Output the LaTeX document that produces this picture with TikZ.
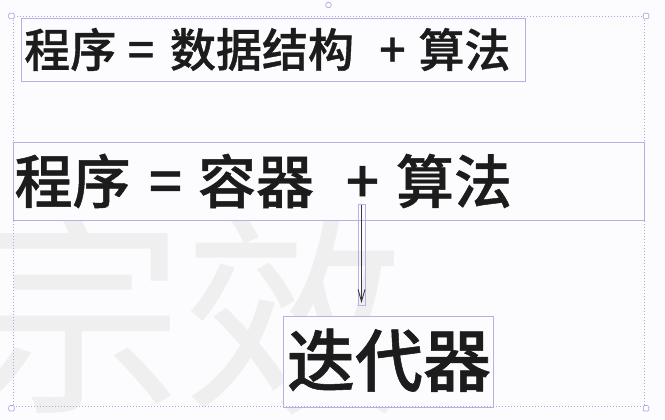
\documentclass[tikz,border=0pt]{standalone}
\usepackage{fontspec}
\usetikzlibrary{arrows.meta}
\newfontfamily\cjk{Noto Sans CJK SC}
\newfontfamily\cjkm[FakeBold=0.8]{Noto Sans CJK SC Medium}
\definecolor{pagebg}{HTML}{FCFCFE}
\definecolor{lavender}{HTML}{B5B1E4}
\definecolor{selline}{HTML}{ABA7E2}
\definecolor{inkdark}{HTML}{1C1C1C}
\definecolor{markgray}{HTML}{EFEFF0}
\definecolor{arrowgray}{HTML}{3A3A3E}
\newcommand{\cjkstrut}{\vphantom{程}}
\begin{document}
\begin{tikzpicture}[x=1pt,y=-1pt,
  every node/.style={inner sep=0pt, outer sep=0pt},
  box/.style={draw=lavender, line width=0.9pt, fill=pagebg, anchor=north west},
  word/.style={text=inkdark},
  small/.style={font=\cjkm\fontsize{46}{46}\selectfont},
  mid/.style={font=\cjkm\fontsize{58}{58}\selectfont},
  large/.style={font=\cjkm\fontsize{68}{68}\selectfont},
  selframe/.style={draw=selline, line width=0.8pt, dash pattern=on 1pt off 2pt},
  handle/.style={draw=selline, fill=white, line width=0.7pt, rounded corners=1.2pt,
                 minimum width=5.5pt, minimum height=5.5pt},
  selbox/.style={draw=lavender, line width=0.6pt},
  flow/.style={draw=arrowgray, line width=1.3pt,
               -{Straight Barb[length=12pt, width=7pt, line width=0.9pt]}}
]
% canvas
\path[use as bounding box, fill=pagebg] (0,0) rectangle (665,420);

% faint background lettering
\node[text=markgray, font=\cjk\fontsize{221}{221}\selectfont] (mark) at (184,312) {宗效};

% boxes
\node[box, minimum width=503.5pt, minimum height=63.4pt] (b1) at (21.5,18.3) {};
\node[box, minimum width=631pt, minimum height=78pt] (b2) at (13.6,142.3) {};
\node[box, minimum width=209.6pt, minimum height=91pt] (b3) at (283.4,316) {};

% first formula
\node[word, small] (t1a) at (70.3,49.5) {\cjkstrut 程序};
\node[word, small] (t1b) at (141,49.5) {\cjkstrut =};
\node[word, small] (t1c) at (262,49.5) {\cjkstrut 数据结构};
\node[word, small] (t1d) at (392.5,49.5) {\cjkstrut +};
\node[word, small] (t1e) at (464.5,49.5) {\cjkstrut 算法};

% second formula
\node[word, mid] (t2a) at (72.5,181) {\cjkstrut 程序};
\node[word, mid] (t2b) at (165.5,181) {\cjkstrut =};
\node[word, mid] (t2c) at (256,181) {\cjkstrut 容器};
\node[word, mid] (t2d) at (362.5,181) {\cjkstrut +};
\node[word, mid] (t2e) at (454,181) {\cjkstrut 算法};

% iterator
\node[word, large] (t3) at (389,360.3) {\cjkstrut 迭代器};

% connector from "+" down towards the iterator box
\coordinate (atop) at (361.5,205);
\coordinate (atip) at (361.5,303);
\node[selbox, minimum width=7.4pt, minimum height=101pt] (asel) at (361.5,254.5) {};
\draw[flow] (atop) -- (atip);

% selection frame with handles
\draw[selframe] (13.3,16.7) rectangle (644.3,406.7);
\node[handle] (h1) at (11.5,16) {};
\node[handle] (h2) at (646,16) {};
\node[handle] (h3) at (11.5,408.3) {};
\node[handle] (h4) at (646,408.3) {};
\node[draw=selline, fill=white, line width=0.7pt, circle, minimum size=5.6pt] (rot) at (328.5,5) {};
\end{tikzpicture}
\end{document}
